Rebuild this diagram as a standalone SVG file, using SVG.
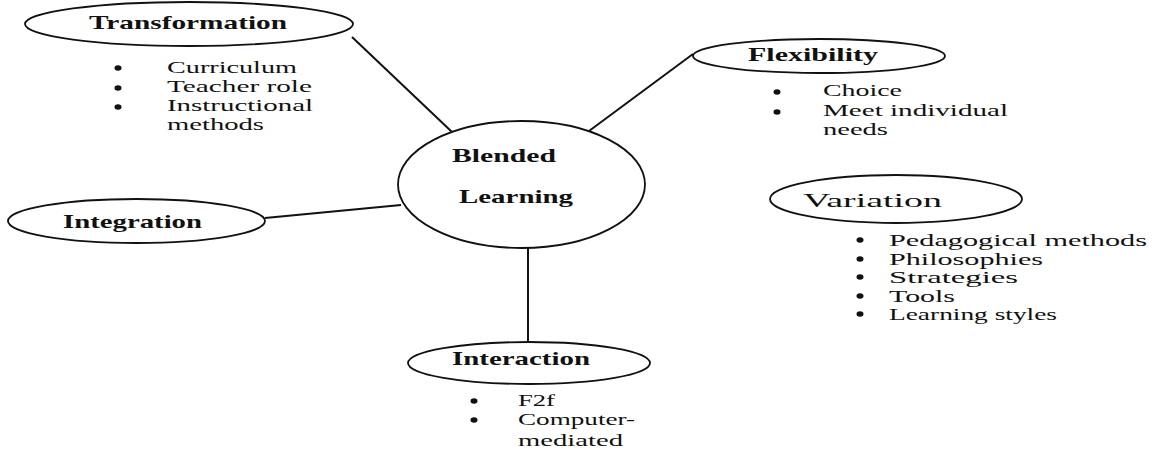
<svg xmlns="http://www.w3.org/2000/svg" width="1158" height="454" viewBox="0 0 1158 454">
  <style>
    .bg { fill: #ffffff; }
    .shape { fill: none; stroke: #111111; stroke-width: 1.8; }
    .link { fill: none; stroke: #111111; stroke-width: 2; }
    .head { font-family: "Liberation Serif", "Times New Roman", serif; font-size: 19px; font-weight: bold; fill: #111111; }
    .head-light { font-family: "Liberation Serif", "Times New Roman", serif; font-size: 19px; fill: #111111; }
    .item { font-family: "Liberation Serif", "Times New Roman", serif; font-size: 17px; fill: #111111; }
    .dot { fill: #111111; }
  </style>
  <rect class="bg" x="0" y="0" width="1158" height="454"/>

  <!-- spokes from the central concept -->
  <g id="connectors">
    <line class="link" x1="352" y1="37" x2="452" y2="132"/>
    <line class="link" x1="693" y1="54" x2="589" y2="131"/>
    <line class="link" x1="265" y1="218" x2="401" y2="205"/>
    <line class="link" x1="528" y1="248" x2="528" y2="342"/>
  </g>

  <g id="blended-learning">
    <ellipse class="shape" cx="521.5" cy="184.5" rx="123.5" ry="63.5"/>
    <text class="head" x="452" y="162" textLength="104" lengthAdjust="spacingAndGlyphs">Blended</text>
    <text class="head" x="459" y="203" textLength="114" lengthAdjust="spacingAndGlyphs">Learning</text>
  </g>

  <g id="transformation">
    <ellipse class="shape" cx="189" cy="24" rx="164" ry="22"/>
    <text class="head" x="89" y="29" textLength="198" lengthAdjust="spacingAndGlyphs">Transformation</text>
    <ellipse class="dot" cx="118" cy="68" rx="3.5" ry="2.7"/>
    <ellipse class="dot" cx="118" cy="88" rx="3.5" ry="2.7"/>
    <ellipse class="dot" cx="118" cy="107" rx="3.5" ry="2.7"/>
    <text class="item" x="167" y="73" textLength="130" lengthAdjust="spacingAndGlyphs">Curriculum</text>
    <text class="item" x="167" y="92" textLength="145" lengthAdjust="spacingAndGlyphs">Teacher role</text>
    <text class="item" x="167" y="111" textLength="146" lengthAdjust="spacingAndGlyphs">Instructional</text>
    <text class="item" x="167" y="130" textLength="97" lengthAdjust="spacingAndGlyphs">methods</text>
  </g>

  <g id="flexibility">
    <ellipse class="shape" cx="819" cy="56" rx="126" ry="17"/>
    <text class="head" x="748" y="61" textLength="130" lengthAdjust="spacingAndGlyphs">Flexibility</text>
    <ellipse class="dot" cx="777" cy="92" rx="3.5" ry="2.7"/>
    <ellipse class="dot" cx="777" cy="112" rx="3.5" ry="2.7"/>
    <text class="item" x="823" y="96" textLength="79" lengthAdjust="spacingAndGlyphs">Choice</text>
    <text class="item" x="823" y="116" textLength="185" lengthAdjust="spacingAndGlyphs">Meet individual</text>
    <text class="item" x="823" y="135" textLength="65" lengthAdjust="spacingAndGlyphs">needs</text>
  </g>

  <g id="integration">
    <ellipse class="shape" cx="136.5" cy="221" rx="128.5" ry="22"/>
    <text class="head" x="63" y="228" textLength="139" lengthAdjust="spacingAndGlyphs">Integration</text>
  </g>

  <g id="variation">
    <ellipse class="shape" cx="896" cy="199" rx="126" ry="24"/>
    <text class="head-light" x="803" y="207" textLength="139" lengthAdjust="spacingAndGlyphs">Variation</text>
    <ellipse class="dot" cx="860" cy="240" rx="3.5" ry="2.7"/>
    <ellipse class="dot" cx="860" cy="259" rx="3.5" ry="2.7"/>
    <ellipse class="dot" cx="860" cy="277" rx="3.5" ry="2.7"/>
    <ellipse class="dot" cx="860" cy="296" rx="3.5" ry="2.7"/>
    <ellipse class="dot" cx="860" cy="314" rx="3.5" ry="2.7"/>
    <text class="item" x="889" y="246" textLength="258" lengthAdjust="spacingAndGlyphs">Pedagogical methods</text>
    <text class="item" x="889" y="264.5" textLength="154" lengthAdjust="spacingAndGlyphs">Philosophies</text>
    <text class="item" x="889" y="283" textLength="129" lengthAdjust="spacingAndGlyphs">Strategies</text>
    <text class="item" x="889" y="301.5" textLength="66" lengthAdjust="spacingAndGlyphs">Tools</text>
    <text class="item" x="889" y="320" textLength="168" lengthAdjust="spacingAndGlyphs">Learning styles</text>
  </g>

  <g id="interaction">
    <ellipse class="shape" cx="529" cy="363" rx="121" ry="21"/>
    <text class="head" x="452" y="365" textLength="138" lengthAdjust="spacingAndGlyphs">Interaction</text>
    <ellipse class="dot" cx="474" cy="401" rx="3.5" ry="2.7"/>
    <ellipse class="dot" cx="474" cy="420" rx="3.5" ry="2.7"/>
    <text class="item" x="518" y="406" textLength="37" lengthAdjust="spacingAndGlyphs">F2f</text>
    <text class="item" x="518" y="425" textLength="117" lengthAdjust="spacingAndGlyphs">Computer-</text>
    <text class="item" x="518" y="446" textLength="105" lengthAdjust="spacingAndGlyphs">mediated</text>
  </g>
</svg>
